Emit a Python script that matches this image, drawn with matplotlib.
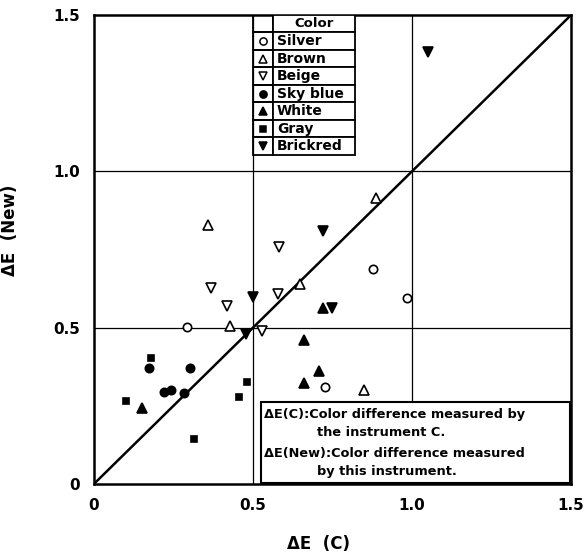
import numpy as np
import matplotlib
matplotlib.use("Agg")
import matplotlib.pyplot as plt
from matplotlib.patches import Rectangle

plt.rcParams['font.family'] = ['DejaVu Sans']
plt.rcParams['font.weight'] = 'bold'

# colour groups: dE(C) on x, dE(New) on y
colors = ['Silver', 'Brown', 'Beige', 'Sky blue', 'White', 'Gray', 'Brickred']
markers = ['o', '^', 'v', 'o', '^', 's', 'v']
filled = [False, False, False, True, True, True, True]

silver_x = [0.293, 0.727, 0.877, 0.985]
silver_y = [0.501, 0.309, 0.687, 0.596]
brown_x = [0.358, 0.427, 0.647, 0.886, 0.849]
brown_y = [0.829, 0.506, 0.639, 0.915, 0.300]
beige_x = [0.369, 0.418, 0.527, 0.582, 0.579]
beige_y = [0.626, 0.569, 0.490, 0.759, 0.608]
skyblue_x = [0.173, 0.302, 0.220, 0.241, 0.283]
skyblue_y = [0.370, 0.370, 0.293, 0.300, 0.290]
white_x = [0.150, 0.659, 0.707, 0.659, 0.720]
white_y = [0.244, 0.459, 0.360, 0.324, 0.561]
gray_x = [0.180, 0.102, 0.313, 0.455, 0.480]
gray_y = [0.404, 0.265, 0.143, 0.277, 0.327]
brickred_x = [0.477, 0.501, 0.719, 0.748, 1.050]
brickred_y = [0.480, 0.599, 0.810, 0.561, 1.380]

xs = [silver_x, brown_x, beige_x, skyblue_x, white_x, gray_x, brickred_x]
ys = [silver_y, brown_y, beige_y, skyblue_y, white_y, gray_y, brickred_y]

ticks = [0, 0.5, 1.0, 1.5]
tick_labels = ['0', '0.5', '1.0', '1.5']

msize = {'o': 6, '^': 6.5, 'v': 6.5, 's': 5}

fig = plt.figure(figsize=(5.84, 5.53), dpi=100)
ax = fig.add_axes([0.161, 0.125, 0.817, 0.848])
ax.set_xlim(0, 1.5)
ax.set_ylim(0, 1.5)

# grid at 0.5 and 1.0
for v in [0.5, 1.0]:
    ax.axvline(v, color='black', lw=0.9, zorder=1)
    ax.axhline(v, color='black', lw=0.9, zorder=1)

# 1:1 line
ax.plot([0, 1.5], [0, 1.5], color='black', lw=1.8, zorder=2)

for x, y, m, f in zip(xs, ys, markers, filled):
    ax.plot(x, y, linestyle='none', marker=m, markersize=msize[m],
            markerfacecolor='black' if f else 'white',
            markeredgecolor='black', markeredgewidth=1.2, zorder=3)

# legend drawn as a table in the upper middle
lx0, lx1, lxm = 0.5, 0.821, 0.563
ly_top = 1.5
row_h = 0.056
rows = ['Color'] + colors
for i, name in enumerate(rows):
    yt = ly_top - i * row_h
    yb = yt - row_h
    ax.add_patch(Rectangle((lx0, yb), lxm - lx0, row_h, fill=False,
                           lw=1.3, zorder=4))
    ax.add_patch(Rectangle((lxm, yb), lx1 - lxm, row_h, facecolor='white',
                           edgecolor='black', lw=1.3, zorder=4))
    yc = (yt + yb) / 2
    if i == 0:
        ax.text((lxm + lx1) / 2, yc, name, ha='center', va='center',
                fontsize=9.5, fontweight='bold', zorder=5)
    else:
        m = markers[i - 1]
        ax.plot((lx0 + lxm) / 2, yc, marker=m, markersize=msize[m] - 0.8,
                markerfacecolor='black' if filled[i - 1] else 'white',
                markeredgecolor='black', markeredgewidth=1.1, zorder=5)
        ax.text(lxm + 0.012, yc, name, ha='left', va='center',
                fontsize=10, fontweight='bold', zorder=5)

# explanation box
ax.add_patch(Rectangle((0.525, 0.003), 0.972, 0.259, facecolor='white',
                       edgecolor='black', lw=1.5, zorder=4))
ax.text(0.535, 0.222, '\u0394E(C):Color difference measured by',
        fontsize=9.3, fontweight='bold', va='center', zorder=5)
ax.text(0.7, 0.164, 'the instrument C.',
        fontsize=9.3, fontweight='bold', va='center', zorder=5)
ax.text(0.535, 0.098, '\u0394E(New):Color difference measured',
        fontsize=9.3, fontweight='bold', va='center', zorder=5)
ax.text(0.7, 0.040, 'by this instrument.',
        fontsize=9.3, fontweight='bold', va='center', zorder=5)

ax.set_xticks(ticks)
ax.set_xticklabels(tick_labels)
ax.set_yticks(ticks)
ax.set_yticklabels(tick_labels)
ax.tick_params(length=0, labelsize=11, pad=10)
for lab in ax.get_xticklabels() + ax.get_yticklabels():
    lab.set_fontweight('bold')

for s in ax.spines.values():
    s.set_linewidth(1.8)

ax.set_xlabel('\u0394E  (C)', fontsize=12, fontweight='bold')
ax.set_ylabel('\u0394E  (New)', fontsize=12, fontweight='bold')
ax.xaxis.set_label_coords(0.47, -0.109)
ax.yaxis.set_label_coords(-0.157, 0.54)

fig.savefig('out.png', dpi=100)
